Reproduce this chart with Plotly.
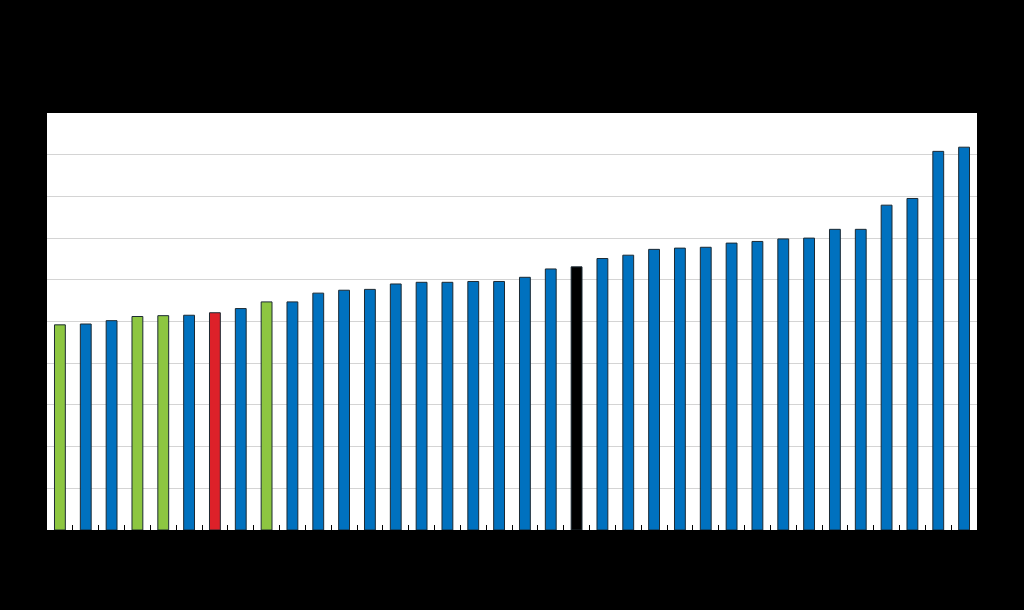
import plotly.graph_objects as go

# bar values (left to right, sorted ascending)
categories = [str(i) for i in range(1, 37)]
values = [4.92, 4.94, 5.02, 5.12, 5.14, 5.15, 5.21, 5.31, 5.47, 5.47,
          5.68, 5.75, 5.77, 5.90, 5.94, 5.94, 5.96, 5.96, 6.06, 6.26,
          6.31, 6.51, 6.59, 6.73, 6.76, 6.78, 6.88, 6.92, 6.98, 7.00,
          7.21, 7.21, 7.79, 7.95, 9.08, 9.18]
# highlight groups: b = blue, g = green, r = red, k = black
groups = ['g', 'b', 'b', 'g', 'g', 'b', 'r', 'b', 'g', 'b',
          'b', 'b', 'b', 'b', 'b', 'b', 'b', 'b', 'b', 'b',
          'k', 'b', 'b', 'b', 'b', 'b', 'b', 'b', 'b', 'b',
          'b', 'b', 'b', 'b', 'b', 'b']

palette = {'b': '#0071bf', 'g': '#8dc641', 'r': '#dd2129', 'k': '#000000'}
colors = [palette[g] for g in groups]

fig = go.Figure(go.Bar(
    x=categories,
    y=values,
    marker=dict(color=colors, line=dict(color='#1c2a33', width=1)),
))

fig.update_layout(
    width=1024, height=610,
    paper_bgcolor='#000000',
    plot_bgcolor='#ffffff',
    margin=dict(l=47, r=47, t=113, b=80),
    bargap=0.58,
    showlegend=False,
)
fig.update_xaxes(
    showticklabels=False,
    tickson='boundaries',
    ticks='inside', ticklen=5, tickcolor='#000000', tickwidth=1,
    showline=True, linecolor='#000000', linewidth=1,
    showgrid=False,
)
fig.update_yaxes(
    range=[0, 10], dtick=1,
    showticklabels=False,
    showgrid=True, gridcolor='#d4d4d4', gridwidth=1,
    zeroline=False,
)

# drop the default page margin so the figure fills the window
fig.write_html("out.html",
               config={'displayModeBar': False},
               post_script="document.body.style.margin='0';"
                           "document.body.style.background='#000';")
